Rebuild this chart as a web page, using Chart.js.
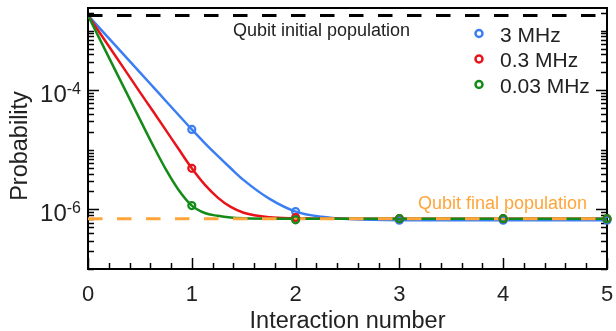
<!DOCTYPE html>
<html>
<head>
<meta charset="utf-8">
<script src="https://cdn.jsdelivr.net/npm/chart.js@4.4.1/dist/chart.umd.min.js"></script>
<style>
  html, body { margin: 0; padding: 0; background: #fff; }
  #wrap { width: 616px; height: 331px; }
</style>
</head>
<body>
<div id="wrap"><canvas id="chart" width="616" height="331"></canvas></div>
<script>
// values
const seriesNames = ['3 MHz', '0.3 MHz', '0.03 MHz'];
const seriesColors = ['#3b7ef4', '#e8131a', '#148a18'];

const curveX = [0, 0.25, 0.5, 0.625, 0.75, 0.875, 1, 1.125, 1.25, 1.375, 1.5, 1.75, 2, 2.25, 2.5, 3, 4, 5];
const curve3MHz = [1.8e-3, 6.0e-4, 2.0e-4, 1.15e-4, 6.6e-5, 3.8e-5, 2.2e-5, 1.3e-5, 7.9e-6, 4.9e-6, 3.1e-6, 1.5e-6, 9.2e-7, 7.5e-7, 6.9e-7, 6.6e-7, 6.6e-7, 6.6e-7];
const curve03MHz = [1.8e-3, 4.1e-4, 9.3e-5, 4.47e-5, 2.14e-5, 1.02e-5, 4.9e-6, 2.6e-6, 1.58e-6, 1.1e-6, 8.8e-7, 7.4e-7, 7.1e-7, 7.0e-7, 7.0e-7, 7.0e-7, 7.0e-7, 7.0e-7];
const curve003MHz = [1.8e-3, 2.4e-4, 3.24e-5, 1.2e-5, 4.7e-6, 2.1e-6, 1.16e-6, 8.7e-7, 7.8e-7, 7.3e-7, 7.1e-7, 7.0e-7, 7.0e-7, 7.0e-7, 7.0e-7, 7.0e-7, 7.0e-7, 7.0e-7];

const markX = [1, 2, 3, 4, 5];
const mark3MHz = [2.2e-5, 9.2e-7, 6.6e-7, 6.6e-7, 6.6e-7];
const mark03MHz = [4.9e-6, 7.3e-7, 7.0e-7, 7.0e-7, 7.0e-7];
const mark003MHz = [1.16e-6, 6.7e-7, 7.0e-7, 7.0e-7, 7.0e-7];

const initialPop = 1.8e-3;
const finalPop = 7.0e-7;
const refX = [0, 5];

const xTicks = [0, 1, 2, 3, 4, 5];
const yLabelExps = [-4, -6];

const curves = [curve3MHz, curve03MHz, curve003MHz];
const marks = [mark3MHz, mark03MHz, mark003MHz];

const pts = (xs, ys) => xs.map((x, i) => ({ x: x, y: ys[i] }));
const FONT = "'Liberation Sans', Arial, Helvetica, sans-serif";
const TEXT = '#222';

const datasets = [];
curves.forEach((c, i) => {
  datasets.push({
    label: seriesNames[i],
    data: pts(curveX, c),
    borderColor: seriesColors[i],
    borderWidth: 2.5,
    pointRadius: 0,
    cubicInterpolationMode: 'monotone',
    order: 4 - i
  });
});
datasets.push({
  label: 'Qubit initial population',
  data: pts(refX, [initialPop, initialPop]),
  borderColor: '#000',
  borderWidth: 3,
  borderDash: [14.5, 14.5],
  pointRadius: 0,
  order: 1
});
datasets.push({
  label: 'Qubit final population',
  data: pts(refX, [finalPop, finalPop]),
  borderColor: '#ffa53a',
  borderWidth: 3,
  borderDash: [14.5, 14.5],
  pointRadius: 0,
  order: 1
});
marks.forEach((m, i) => {
  datasets.push({
    label: seriesNames[i] + ' points',
    data: pts(markX, m),
    showLine: false,
    clip: false,
    pointRadius: 3.5,
    pointBorderWidth: 2.2,
    pointBorderColor: seriesColors[i],
    pointBackgroundColor: 'rgba(0,0,0,0)',
    order: 0.3 - i * 0.1
  });
});

const decor = {
  id: 'decor',
  beforeDatasetsDraw(chart) {
    const ctx = chart.ctx;
    const a = chart.chartArea;
    const xs = chart.scales.x, ys = chart.scales.y;
    ctx.save();
    ctx.strokeStyle = '#000';
    ctx.lineWidth = 1.5;

    // log ticks on left and right, pointing inward
    for (let e = -7; e <= -3; e++) {
      for (let m = 1; m <= 9; m++) {
        const v = m * Math.pow(10, e);
        if (v < ys.min * 0.999 || v > ys.max) continue;
        const y = Math.round(ys.getPixelForValue(v)) + 0.5;
        const len = (m === 1 && yLabelExps.includes(e)) ? 11 : 6;
        ctx.beginPath();
        ctx.moveTo(a.left, y); ctx.lineTo(a.left + len, y);
        ctx.moveTo(a.right, y); ctx.lineTo(a.right - len, y);
        ctx.stroke();
      }
    }
    // x ticks on the bottom
    for (let k = 0; k <= 25; k++) {
      const v = k * 0.2;
      const x = Math.round(xs.getPixelForValue(v)) + 0.5;
      const len = (k % 5 === 0) ? 11 : 6;
      ctx.beginPath();
      ctx.moveTo(x, a.bottom); ctx.lineTo(x, a.bottom - len);
      ctx.stroke();
    }

    // frame
    ctx.lineWidth = 2;
    ctx.strokeRect(a.left, a.top, a.right - a.left, a.bottom - a.top);
    ctx.restore();
  },
  afterDraw(chart) {
    const ctx = chart.ctx;
    const a = chart.chartArea;
    const xs = chart.scales.x, ys = chart.scales.y;
    ctx.save();
    ctx.fillStyle = TEXT;
    // x tick labels
    ctx.font = '22px ' + FONT;
    ctx.textAlign = 'center';
    ctx.textBaseline = 'alphabetic';
    xTicks.forEach(t => {
      ctx.fillText(String(t), xs.getPixelForValue(t), 301);
    });
    // y tick labels with superscripts
    yLabelExps.forEach(e => {
      const y = ys.getPixelForValue(Math.pow(10, e));
      ctx.textAlign = 'right';
      ctx.font = '16px ' + FONT;
      const sup = '-' + Math.abs(e);
      const supW = ctx.measureText(sup).width;
      ctx.fillText(sup, 81, y + 4);
      ctx.font = '24px ' + FONT;
      ctx.fillText('10', 81 - supW, y + 12);
    });
    // axis titles
    ctx.font = '23.5px ' + FONT;
    ctx.textAlign = 'center';
    ctx.fillText('Interaction number', (a.left + a.right) / 2, 328);
    ctx.save();
    ctx.translate(27, 146);
    ctx.rotate(-Math.PI / 2);
    ctx.fillText('Probability', 0, 0);
    ctx.restore();

    // annotations
    ctx.font = '18px ' + FONT;
    ctx.textAlign = 'left';
    ctx.fillText('Qubit initial population', 233, 36);
    ctx.fillStyle = '#ffa53a';
    ctx.fillText('Qubit final population', 418, 209);

    // legend
    ctx.font = '21px ' + FONT;
    seriesNames.forEach((n, i) => {
      const y = 33.5 + i * 25.5;
      ctx.beginPath();
      ctx.strokeStyle = seriesColors[i];
      ctx.lineWidth = 2.5;
      ctx.arc(479, y, 3.5, 0, Math.PI * 2);
      ctx.stroke();
      ctx.fillStyle = TEXT;
      ctx.fillText(n, 500, y + 8);
    });
    ctx.restore();
  }
};

new Chart(document.getElementById('chart'), {
  type: 'line',
  data: { datasets: datasets },
  options: {
    responsive: false,
    animation: false,
    layout: { padding: { top: 8, right: 9, left: 0, bottom: 0 } },
    plugins: { legend: { display: false }, tooltip: { enabled: false } },
    scales: {
      x: {
        type: 'linear', min: 0, max: 5,
        grid: { display: false }, border: { display: false },
        ticks: { display: false },
        afterFit(s) { s.height = 62; }
      },
      y: {
        type: 'logarithmic', min: 1e-7, max: 2.4e-3,
        grid: { display: false }, border: { display: false },
        ticks: { display: false },
        afterFit(s) { s.width = 88; }
      }
    }
  },
  plugins: [decor]
});
</script>
</body>
</html>
